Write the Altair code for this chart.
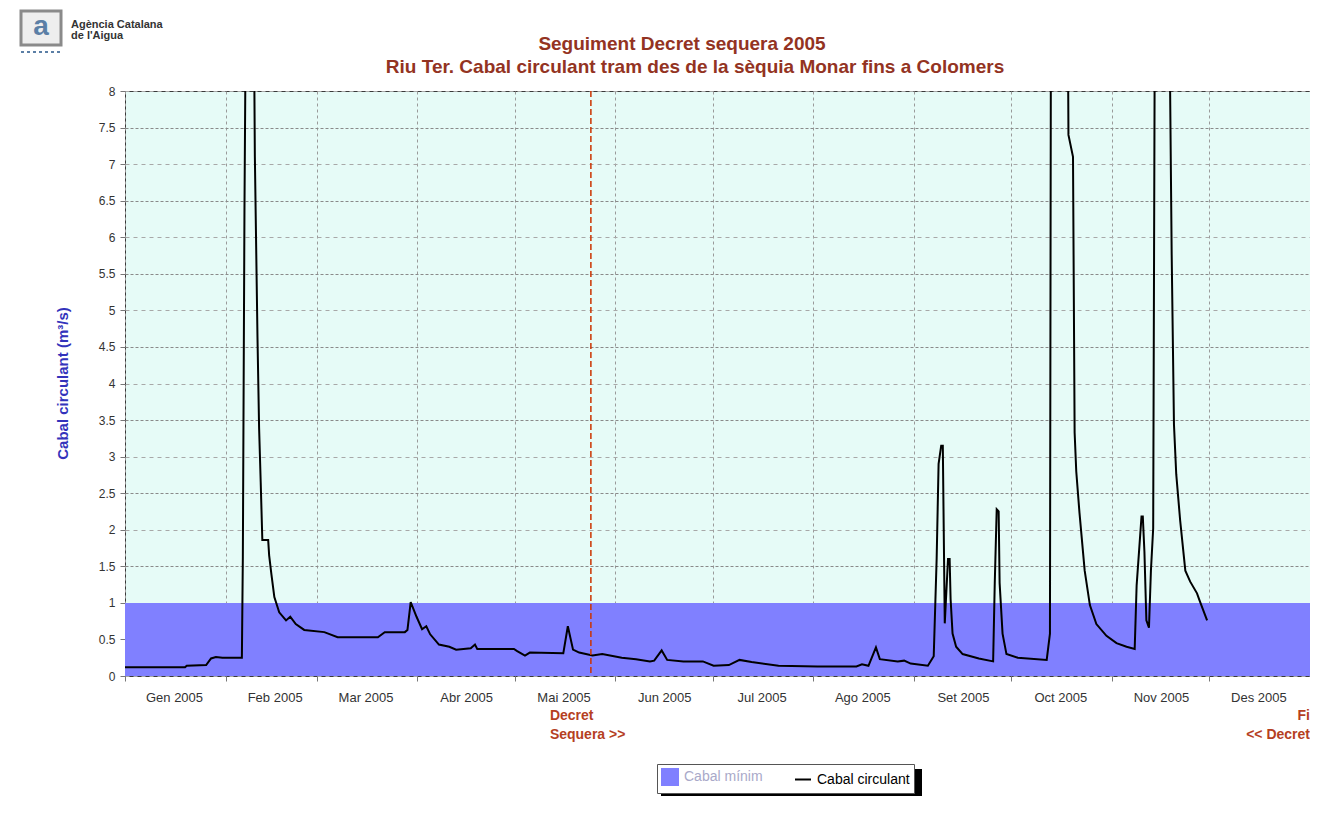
import json
import pandas as pd
import altair as alt

# ---- Dades llegides del gràfic (dies des de l'1 de gener de 2005) ----
dies = [0, 18.5, 19, 25, 26.5, 28, 30, 36,
        36.3, 36.8, 37.2, 38.5, 39.7, 40, 40.8, 41.3, 41.8, 42.3, 44.1, 44.4, 45.1, 46, 47.5, 49.6, 50.9, 52.6,
        55.2, 61.4, 65.5, 77.9, 80, 86.2, 87, 88, 89.8, 91.5, 92.8, 94, 96.7, 99.9, 102, 106.5, 107.8, 108.5,
        119.8, 120.8, 123.2, 124.7, 135, 136.4, 138, 139.9, 144, 147, 150.6, 153, 157.4, 161.7,
        163, 165.3, 167, 172, 178, 181.3, 186, 189.3, 193, 201.3, 213.3, 225.3, 227, 229, 231.3, 232.5, 238,
        240, 242, 247.3, 249.1,
        250, 250.6, 251.4, 251.9, 252.5, 253.5, 254, 254.3, 254.9, 256, 258, 263, 267.4, 267.9, 268.5, 269.1,
        269.4, 270.3, 271.5, 275, 283.9, 284.9,
        285.2, 287.5, 290.4, 290.6, 292, 292.5, 293, 294, 295.6, 297.2, 299.2, 302.3, 305.4, 308.5, 311, 311.6,
        313.1, 313.5, 314, 314.6, 315.4, 316, 316.7,
        317.2, 319.5, 321.7, 322.4, 323.1, 323.8, 325, 326.6, 328.1, 330.2, 331, 333.3]

cabal = [0.12, 0.12, 0.14, 0.15, 0.24, 0.26, 0.25, 0.25,
         1.63, 6.4, 9, 14, 9, 7.1, 4.65, 3.4, 2.65, 1.86, 1.86, 1.65, 1.39, 1.08, 0.87, 0.76, 0.81, 0.71,
         0.63, 0.6, 0.53, 0.53, 0.6, 0.6, 0.63, 1.01, 0.81, 0.64, 0.68, 0.57, 0.43, 0.4, 0.36, 0.38, 0.43, 0.37,
         0.37, 0.34, 0.28, 0.32, 0.31, 0.68, 0.36, 0.32, 0.28, 0.3, 0.27, 0.25, 0.23, 0.2,
         0.21, 0.35, 0.22, 0.2, 0.2, 0.14, 0.15, 0.22, 0.19, 0.14, 0.13, 0.13, 0.16, 0.14, 0.39, 0.23, 0.2,
         0.21, 0.17, 0.14, 0.27,
         1.6, 2.9, 3.15, 3.15, 0.72, 1.6, 1.6, 1.05, 0.58, 0.4, 0.3, 0.24, 0.2, 1.27, 2.28, 2.25,
         1.27, 0.58, 0.3, 0.25, 0.22, 0.58,
         9, 15, 9, 7.4, 7.1, 3.33, 2.8, 2.23, 1.44, 0.97, 0.71, 0.55, 0.45, 0.4, 0.37, 1.24,
         2.18, 2.18, 1.7, 0.76, 0.66, 1.44, 2.02,
         9, 15, 9, 5.75, 3.44, 2.76, 2.13, 1.44, 1.29, 1.13, 1.03, 0.76]

cabal_minim = 1.0
serie_minim = "Cabal mínim"
serie_circulant = "Cabal circulant"

mesos = ["Gen 2005", "Feb 2005", "Mar 2005", "Abr 2005", "Mai 2005", "Jun 2005",
         "Jul 2005", "Ago 2005", "Set 2005", "Oct 2005", "Nov 2005", "Des 2005"]
inici_mesos = ["2005-01-01", "2005-02-01", "2005-03-01", "2005-04-01", "2005-05-01", "2005-06-01",
               "2005-07-01", "2005-08-01", "2005-09-01", "2005-10-01", "2005-11-01", "2005-12-01",
               "2006-01-01"]
valors_y = [0, 0.5, 1, 1.5, 2, 2.5, 3, 3.5, 4, 4.5, 5, 5.5, 6, 6.5, 7, 7.5, 8]

inici_any = "2005-01-01"
fi_eix = "2006-01-01"
decret_inici = "2005-05-24T12:00:00"
decret_fi = "2006-01-01"
text_decret_inici = "Decret\nSequera >>"
text_decret_fi = "Fi\n<< Decret"

titol_1 = "Seguiment Decret sequera 2005"
titol_2 = "Riu Ter. Cabal circulant tram des de la sèquia Monar fins a Colomers"
titol_eix_y = "Cabal circulant (m³/s)"
logo_linia1 = "Agència Catalana"
logo_linia2 = "de l'Aigua"

# ---- Taules ----
t0 = pd.Timestamp(inici_any)
df_linia = pd.DataFrame({
    "data": t0 + pd.to_timedelta(dies, unit="D"),
    "cabal": cabal,
    "serie": serie_circulant,
})
df_minim = pd.DataFrame({
    "data": [pd.Timestamp(inici_any), pd.Timestamp(fi_eix)],
    "cabal": [cabal_minim, cabal_minim],
    "serie": serie_minim,
})
df_dec_ini = pd.DataFrame({"data": [pd.Timestamp(decret_inici)], "text": [text_decret_inici]})
df_dec_fi = pd.DataFrame({"data": [pd.Timestamp(decret_fi)], "text": [text_decret_fi]})
df_un = pd.DataFrame({"k": [0]})


def dt(s):
    y, m, d = [int(v) for v in s[:10].split("-")]
    return alt.DateTime(year=y, month=m, date=d)


FONT = "Liberation Sans"
TITLE_COLOR = "#933322"

label_expr = ("year(datum.value) == 2005 ? " + json.dumps(mesos) + "[month(datum.value)] : ''")

x_enc = alt.X(
    "data:T",
    scale=alt.Scale(domain=[dt(inici_any), dt(fi_eix)], nice=False),
    axis=alt.Axis(
        values=[dt(s) for s in inici_mesos],
        labelExpr=label_expr,
        title=None,
        grid=True, gridDash=[3, 3], gridColor="#9a9a9a", gridWidth=1,
        ticks=True, tickSize=5, tickColor="#777777",
        domain=False,
        labelOffset=49, labelPadding=10, labelFontSize=13, labelFont=FONT,
        labelColor="#333333", labelOverlap=False, labelFlush=False,
    ),
)

y_enc = alt.Y(
    "cabal:Q",
    scale=alt.Scale(domain=[0, 8], nice=False, zero=True),
    axis=alt.Axis(
        values=valors_y, format=".1~f",
        title=titol_eix_y, titleColor="#3333bb", titleFontWeight="bold", titleFontSize=15,
        titleFont=FONT, titleX=-63, titleY=292, titleBaseline="middle", titleAngle=270,
        grid=True,
        gridDash={"condition": {"test": "datum.value % 1 === 0", "value": [4, 4]}, "value": [3, 2]},
        gridColor={"condition": {"test": "datum.value % 1 === 0", "value": "#a8a8a8"}, "value": "#8a8a8a"},
        gridWidth=1,
        ticks=True, tickSize=5, tickColor="#777777",
        domain=False,
        labelPadding=5, labelFontSize=12, labelFont=FONT, labelColor="#333333",
    ),
)

color_enc = alt.Color(
    "serie:N",
    scale=alt.Scale(domain=[serie_minim, serie_circulant], range=["#8080ff", "#000000"]),
    legend=alt.Legend(
        title=None, orient="none", legendX=532, legendY=673, direction="horizontal",
        symbolType={"expr": "datum.value == '" + serie_minim + "' ? 'square' : 'stroke'"},
        labelColor={"expr": "datum.value == '" + serie_minim + "' ? '#a9a9c9' : '#000000'"},
        symbolSize=256,
        symbolStrokeWidth=2, labelFontSize=14, labelFont=FONT,
        columnPadding=28, labelOffset=5, padding=4,
        strokeColor="#555555", fillColor="#ffffff", cornerRadius=0,
    ),
)

area = alt.Chart(df_minim).mark_area(opacity=1).encode(x=x_enc, y=y_enc, color=color_enc)

linia = alt.Chart(df_linia).mark_line(strokeWidth=2, clip=True).encode(x=x_enc, y=y_enc, color=color_enc)

regla = alt.Chart(df_dec_ini).mark_rule(color="#cc3300", strokeDash=[6, 3], strokeWidth=1.5).encode(
    x="data:T"
)

txt_ini = alt.Chart(df_dec_ini).mark_text(
    align="left", baseline="top", lineBreak="\n", lineHeight=19, dx=-41,
    font=FONT, fontSize=14, fontWeight="bold", color="#b5401f",
).encode(x="data:T", y=alt.value(618), text="text:N")

txt_fi = alt.Chart(df_dec_fi).mark_text(
    align="right", baseline="top", lineBreak="\n", lineHeight=19, dx=0,
    font=FONT, fontSize=14, fontWeight="bold", color="#b5401f",
).encode(x="data:T", y=alt.value(618), text="text:N")

ombra = alt.Chart(df_un).mark_rect(color="#000000").encode(
    x=alt.value(536), x2=alt.value(797), y=alt.value(678), y2=alt.value(705)
)

tit1 = alt.Chart(df_un).mark_text(
    font=FONT, fontSize=19, fontWeight="bold", color=TITLE_COLOR, align="center", baseline="middle"
).encode(x=alt.value(557), y=alt.value(-47), text=alt.value(titol_1))
tit2 = alt.Chart(df_un).mark_text(
    font=FONT, fontSize=19, fontWeight="bold", color=TITLE_COLOR, align="center", baseline="middle"
).encode(x=alt.value(570), y=alt.value(-24), text=alt.value(titol_2))

logo_quadre = alt.Chart(df_un).mark_rect(fill="#eeeeee", stroke="#8a8a8a", strokeWidth=3).encode(
    x=alt.value(-104), x2=alt.value(-64), y=alt.value(-80), y2=alt.value(-46)
)
logo_a = alt.Chart(df_un).mark_text(
    font=FONT, fontSize=28, fontWeight="bold", color="#5b7fa6", baseline="middle", align="center"
).encode(x=alt.value(-84), y=alt.value(-64), text=alt.value("a"))
logo_punts = alt.Chart(df_un).mark_rule(color="#5b7fa6", strokeDash=[3, 3], strokeWidth=2).encode(
    x=alt.value(-104), x2=alt.value(-64), y=alt.value(-39)
)
logo_t1 = alt.Chart(df_un).mark_text(
    font=FONT, fontSize=11, fontWeight="bold", color="#333333", align="left", baseline="middle"
).encode(x=alt.value(-54), y=alt.value(-66), text=alt.value(logo_linia1))
logo_t2 = alt.Chart(df_un).mark_text(
    font=FONT, fontSize=11, fontWeight="bold", color="#333333", align="left", baseline="middle"
).encode(x=alt.value(-54), y=alt.value(-55), text=alt.value(logo_linia2))

chart = alt.layer(
    area, linia, regla, txt_ini, txt_fi, ombra, tit1, tit2,
    logo_quadre, logo_a, logo_punts, logo_t1, logo_t2
).properties(
    width=1185,
    height=585,
    autosize=alt.AutoSizeParams(type="none"),
    padding={"left": 117, "top": 83, "right": 0, "bottom": 130},
    background="#ffffff",
).configure_view(
    fill="#e6fbf7", stroke="#3a3a3a", strokeWidth=1
)

chart.save("out.html", embed_options={"renderer": "svg", "actions": False})
